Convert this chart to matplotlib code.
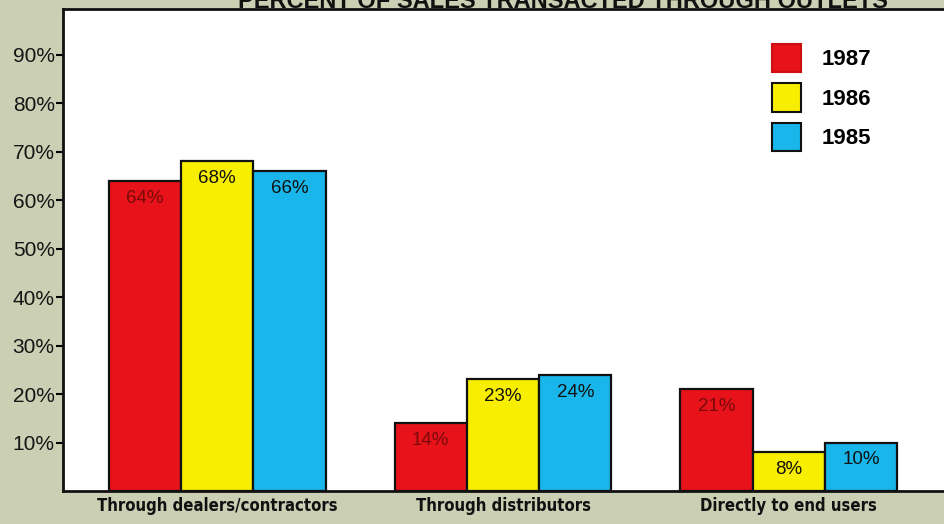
import matplotlib
matplotlib.use("Agg")
import matplotlib.pyplot as plt
from matplotlib.patches import Patch
import numpy as np

# Share of sales by outlet, per year
categories = ["Through dealers/contractors", "Through distributors", "Directly to end users"]
years = ["1987", "1986", "1985"]
values_1987 = [64, 14, 21]
values_1986 = [68, 23, 8]
values_1985 = [66, 24, 10]
yticks = [10, 20, 30, 40, 50, 60, 70, 80, 90]
title = "PERCENT OF SALES TRANSACTED THROUGH OUTLETS"

series = [values_1987, values_1986, values_1985]
colors = ["#e8121a", "#f8ee00", "#18b6ea"]
label_colors = ["#7a0a0a", "#111111", "#111111"]
bg = "#cbcfb3"

W, H = 944, 524
fig = plt.figure(figsize=(W / 100, H / 100), dpi=100, facecolor=bg)
# plot panel runs past the right edge of the page
ax = fig.add_axes([63 / W, 1 - 491 / H, 890 / W, 482 / H])
ax.set_facecolor("white")

x = np.arange(len(categories))
width = 0.253
offsets = [-width, 0, width]

for vals, off, col, lcol in zip(series, offsets, colors, label_colors):
    bars = ax.bar(x + off, vals, width, color=col, edgecolor="#111111",
                  linewidth=1.6, zorder=2)
    for b, v in zip(bars, vals):
        ax.text(b.get_x() + b.get_width() / 2, v - 3.6, f"{v}%",
                ha="center", va="center", fontsize=13.5, color=lcol,
                family="Liberation Sans", zorder=3)

ax.set_xlim(-0.54, 2.575)
ax.set_ylim(0, 99.4)
ax.set_yticks(yticks)
ax.set_yticklabels([f"{t}%" for t in yticks], fontsize=15,
                   family="Liberation Sans", color="#151515")
ax.tick_params(axis="y", direction="out", length=5, width=1.5, pad=1)
ax.set_xticks([])

for side in ["left", "bottom", "top"]:
    ax.spines[side].set_linewidth(2)
    ax.spines[side].set_color("#111111")
ax.spines["right"].set_visible(False)

# Category labels under each group
for xi, cat in zip(x, categories):
    ax.text(xi, -1.3, cat, ha="center", va="top", fontsize=12,
            fontweight="bold", family="DejaVu Sans", fontstretch="condensed",
            color="#111111")

# Legend
handles = [Patch(facecolor=c, edgecolor=("#cc1010" if i == 0 else "#111111"),
                 linewidth=1.5) for i, c in enumerate(colors)]
fig.legend(handles, years, loc="upper left",
           bbox_to_anchor=(772 / W, 1 - 44 / H), frameon=False,
           prop={"family": "Liberation Sans", "weight": "bold", "size": 16},
           handlelength=1.3, handleheight=1.58, labelspacing=0.5,
           handletextpad=0.95, borderpad=0, borderaxespad=0)

# Title, running off the top edge
fig.text(888 / W, 1 - 8 / H, title, ha="right", va="baseline",
         fontsize=17, fontweight="bold", family="Liberation Sans",
         color="#111111")

fig.savefig("out.png", dpi=100, facecolor=bg)
